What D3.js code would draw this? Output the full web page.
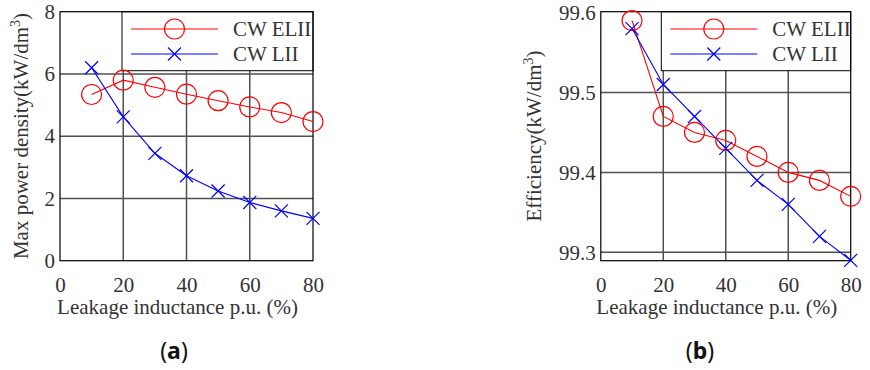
<!DOCTYPE html>
<html lang="en">
<head>
<meta charset="utf-8">
<title>Leakage inductance charts</title>
<script src="https://d3js.org/d3.v7.min.js"></script>
<style>
  body { margin: 0; background: #fff; }
  svg text { font-family: "Liberation Serif", "Times New Roman", serif; }
  svg text.tag { font-family: "Noto Sans", "Open Sans", sans-serif; }
</style>
</head>
<body>
<div id="chart"></div>
<script>
// data
var leakage = [10, 20, 30, 40, 50, 60, 70, 80];
var xTicks = [0, 20, 40, 60, 80];

var densityELII = [5.34, 5.80, 5.57, 5.35, 5.14, 4.94, 4.76, 4.47];
var densityLII  = [6.20, 4.62, 3.45, 2.73, 2.24, 1.87, 1.60, 1.36];
var densityTicks = [0, 2, 4, 6, 8];

var effELII = [99.59, 99.47, 99.45, 99.44, 99.42, 99.40, 99.39, 99.37];
var effLII  = [99.58, 99.51, 99.47, 99.43, 99.39, 99.36, 99.32, 99.29];
var effTicks = [99.3, 99.4, 99.5, 99.6];

var seriesNames = ["CW ELII", "CW LII"];

var FS = 21;

var svg = d3.select("#chart").append("svg")
  .attr("width", 870).attr("height", 370);

function panel(opt) {
  var x = d3.scaleLinear().domain([0, 80]).range([opt.left, opt.right]);
  var y = d3.scaleLinear().domain(opt.ydom).range([260.7, 11.7]);
  var g = svg.append("g");

  // grid
  g.selectAll(".vg").data(xTicks.slice(1, -1)).enter().append("line")
    .attr("x1", d => x(d)).attr("x2", d => x(d))
    .attr("y1", y.range()[0]).attr("y2", y.range()[1])
    .attr("stroke", "#505050").attr("stroke-width", 1.5);
  g.selectAll(".hg").data(opt.yticks.filter(function (t) {
      return y(t) > 13 && y(t) < 259; }))
    .enter().append("line")
    .attr("x1", opt.left).attr("x2", opt.right)
    .attr("y1", d => y(d)).attr("y2", d => y(d))
    .attr("stroke", "#505050").attr("stroke-width", 1.5);

  // legend box (over grid)
  g.append("rect")
    .attr("x", opt.legX).attr("y", 11.7)
    .attr("width", opt.right - opt.legX).attr("height", 59)
    .attr("fill", "#fff").attr("stroke", "#000").attr("stroke-width", 1);

  // frame
  g.append("rect")
    .attr("x", opt.left).attr("y", 11.7)
    .attr("width", opt.right - opt.left).attr("height", 249)
    .attr("fill", "none").attr("stroke", "#000").attr("stroke-width", 1.2);

  // axes labels
  var xa = d3.axisBottom(x).tickValues(xTicks).tickSize(0).tickPadding(16);
  var xg = g.append("g").attr("transform", "translate(0,260.7)").call(xa);
  xg.select(".domain").remove();
  xg.selectAll("text").attr("font-size", FS).attr("fill", "#333");

  var ya = d3.axisLeft(y).tickValues(opt.yticks).tickSize(0).tickPadding(5)
    .tickFormat(opt.fmt);
  var yg = g.append("g").attr("transform", "translate(" + opt.left + ",0)").call(ya);
  yg.select(".domain").remove();
  yg.selectAll("text").attr("font-size", FS).attr("fill", "#333");

  g.append("text")
    .attr("x", (opt.left + opt.right) / 2 + opt.xlabShift).attr("y", 314)
    .attr("text-anchor", "middle").attr("font-size", FS).attr("fill", "#333")
    .text("Leakage inductance p.u. (%)");

  var yl = g.append("text")
    .attr("transform", "translate(" + opt.ylabX + "," + opt.ylabY + ") rotate(-90)")
    .attr("text-anchor", "middle").attr("font-size", FS).attr("fill", "#333");
  yl.append("tspan").text(opt.ylabel + "(kW/dm");
  yl.append("tspan").attr("font-size", 14).attr("dy", -8).text("3");
  yl.append("tspan").attr("dy", 8).text(")");

  // series
  var line = d3.line().x((d, i) => x(leakage[i])).y(d => y(d));
  g.append("path").datum(opt.red).attr("d", line)
    .attr("fill", "none").attr("stroke", "#ff0000").attr("stroke-width", 1.1);
  g.append("path").datum(opt.blue).attr("d", line)
    .attr("fill", "none").attr("stroke", "#0000ff").attr("stroke-width", 1.1);

  g.selectAll(".circ").data(opt.red).enter().append("circle")
    .attr("cx", (d, i) => x(leakage[i])).attr("cy", d => y(d)).attr("r", 10)
    .attr("fill", "none").attr("stroke", "#ff0000").attr("stroke-width", 1.2);

  var s = 6.5;
  function cross(sel) {
    sel.append("path")
      .attr("d", "M" + (-s) + "," + (-s) + "L" + s + "," + s +
                 "M" + (-s) + "," + s + "L" + s + "," + (-s))
      .attr("stroke", "#0000ff").attr("stroke-width", 1.2).attr("fill", "none");
  }
  g.selectAll(".cross").data(opt.blue).enter().append("g")
    .attr("transform", (d, i) => "translate(" + x(leakage[i]) + "," + y(d) + ")")
    .call(cross);

  // legend entries
  var lx1 = opt.legX + 9, lx2 = opt.legX + 96, lm = (lx1 + lx2) / 2;
  g.append("line").attr("x1", lx1).attr("x2", lx2).attr("y1", 29).attr("y2", 29)
    .attr("stroke", "#ff0000").attr("stroke-width", 1.1);
  g.append("circle").attr("cx", lm).attr("cy", 29).attr("r", 10)
    .attr("fill", "none").attr("stroke", "#ff0000").attr("stroke-width", 1.2);
  g.append("line").attr("x1", lx1).attr("x2", lx2).attr("y1", 54).attr("y2", 54)
    .attr("stroke", "#0000ff").attr("stroke-width", 1.1);
  g.append("g").attr("transform", "translate(" + lm + ",54)").call(cross);
  g.selectAll(".legt").data(seriesNames).enter().append("text")
    .attr("x", opt.legX + 111).attr("y", (d, i) => 36 + i * 25)
    .attr("font-size", FS).attr("fill", "#333").text(d => d);

  // panel tag
  var tag = g.append("text").attr("class", "tag")
    .attr("x", opt.tagX).attr("y", 359)
    .attr("text-anchor", "middle").attr("font-size", 23).attr("fill", "#111");
  tag.append("tspan").text("(");
  tag.append("tspan").attr("font-weight", "bold").text(opt.tag);
  tag.append("tspan").text(")");
}

panel({
  left: 60, right: 313, ydom: [0, 8], yticks: densityTicks,
  fmt: d3.format("d"), legX: 122, red: densityELII, blue: densityLII,
  ylabel: "Max power density", ylabX: 28, ylabY: 136, xlabShift: -9,
  tag: "a", tagX: 174
});

panel({
  left: 600.8, right: 850.7, ydom: [99.2895, 99.6011], yticks: effTicks,
  fmt: d3.format(".1f"), legX: 661.3, red: effELII, blue: effLII,
  ylabel: "Efficiency", ylabX: 541, ylabY: 136, xlabShift: -9,
  tag: "b", tagX: 700
});
</script>
</body>
</html>
